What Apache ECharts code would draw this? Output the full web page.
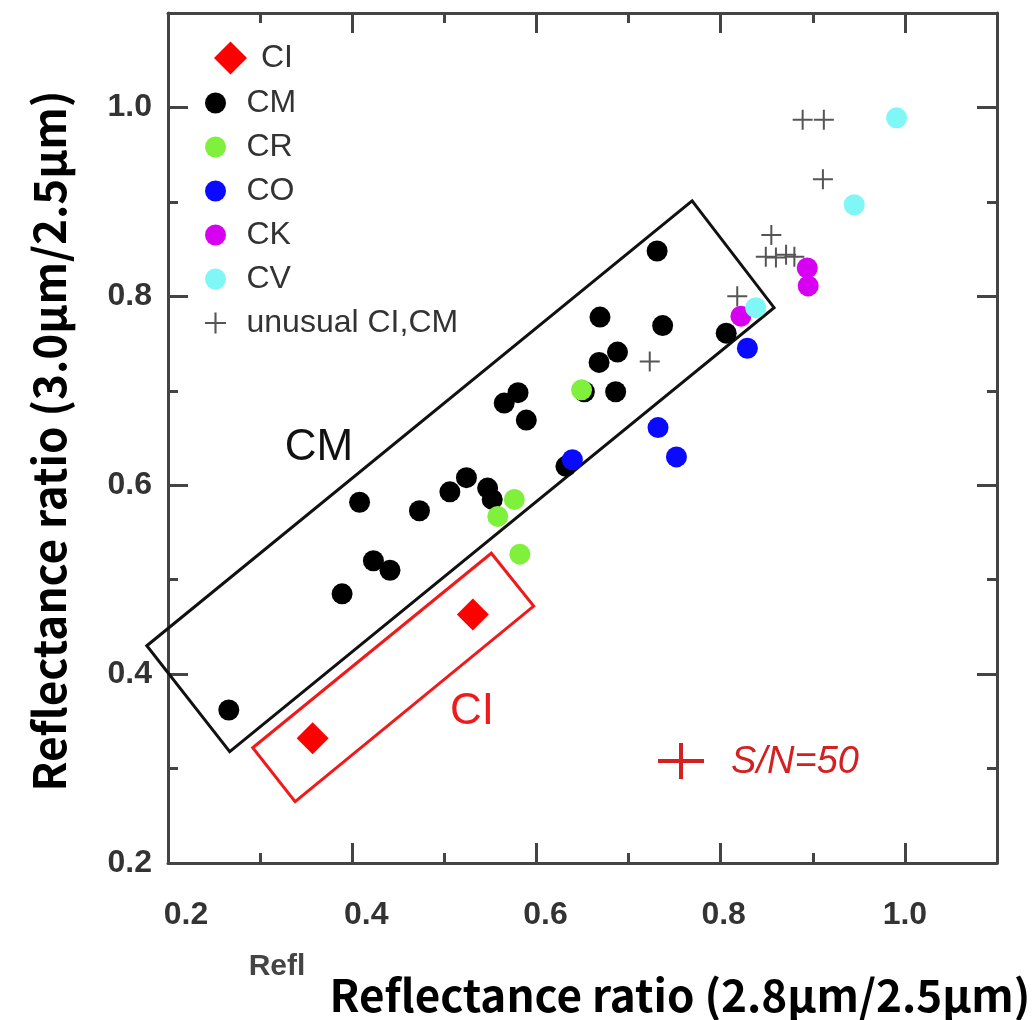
<!DOCTYPE html>
<html>
<head>
<meta charset="utf-8">
<script src="https://cdn.jsdelivr.net/npm/echarts@6/dist/echarts.min.js"></script>
<style>
html,body{margin:0;padding:0;background:#fff;}
#chart{width:1032px;height:1020px;}
</style>
</head>
<body>
<div id="chart"></div>
<script>
// values: [ratio 2.8/2.5, ratio 3.0/2.5]
var ciData = [[0.357,0.332],[0.531,0.463]];
var cmData = [
    [0.266,0.362],[0.389,0.485],[0.408,0.582],[0.423,0.520],[0.441,0.510],
    [0.473,0.573],[0.506,0.593],[0.524,0.608],[0.547,0.597],[0.552,0.585],
    [0.565,0.687],[0.580,0.698],[0.589,0.669],[0.632,0.620],[0.652,0.699],
    [0.668,0.730],[0.669,0.778],[0.686,0.699],[0.688,0.741],[0.731,0.848],
    [0.737,0.769],[0.806,0.761]
];
var crData = [[0.558,0.567],[0.576,0.585],[0.582,0.527],[0.649,0.701]];
var coData = [[0.639,0.627],[0.732,0.661],[0.752,0.630],[0.829,0.745]];
var ckData = [[0.822,0.779],[0.894,0.830],[0.895,0.811]];
var cvData = [[0.838,0.788],[0.945,0.897],[0.991,0.989]];
var unusualData = [
    [0.723,0.731],[0.818,0.800],[0.849,0.842],[0.860,0.841],[0.871,0.844],
    [0.880,0.842],[0.855,0.865],[0.889,0.987],[0.912,0.987],[0.911,0.924]
];
// group outlines (corners in data units)
var cmBox = [[0.177,0.430],[0.769,0.901],[0.858,0.788],[0.267,0.318]];
var ciBox = [[0.292,0.322],[0.551,0.528],[0.597,0.472],[0.338,0.265]];

var axisMin = 0.2, axisMax = 1.1;
var frameColor = '#444';
var plusPath = 'path://M9,0h2v9h9v2h-9v9h-2v-9h-9v-2h9z';

var chart = echarts.init(document.getElementById('chart'));

// x labels in the original sit a little right of their ticks
var xLabelShift = {'0.2':'s36','0.4':'s28','0.6':'s18','0.8':'s6','1.0':'s0'};

function majorAxis(pos, labels){
    var horiz = (pos=='bottom'||pos=='top');
    return {
        type:'value', position:pos, min:axisMin, max:axisMax, interval:0.2,
        axisLine:{show:true, lineStyle:{color:frameColor, width:3}},
        axisTick:{show:true, inside:true, length:20, lineStyle:{color:frameColor, width:3}},
        axisLabel:{
            show:labels, showMaxLabel:false,
            fontFamily:'Liberation Sans', fontSize:32, fontWeight:'bold', color:'#333',
            margin:horiz ? 36 : 16,
            formatter:function(v){
                var t = v.toFixed(1);
                if(horiz && xLabelShift[t]) return '{' + xLabelShift[t] + '|' + t + '}';
                return t;
            },
            rich:{
                s36:{padding:[0,0,0,36]}, s28:{padding:[0,0,0,28]},
                s18:{padding:[0,0,0,18]}, s6:{padding:[0,0,0,6]}, s0:{}
            }
        },
        splitLine:{show:false}
    }
}
function minorAxis(pos){
    return {
        type:'value', position:pos, min:axisMin, max:axisMax, interval:0.1,
        axisLine:{show:false},
        axisTick:{show:true, inside:true, length:10, lineStyle:{color:frameColor, width:3}},
        axisLabel:{show:false},
        splitLine:{show:false}
    }
}

function boxSeries(name, corners, color){
    return {
        name:name, type:'custom', clip:false, silent:true,
        data:[corners[0]],
        renderItem:function(params, api){
            return {
                type:'polygon',
                shape:{points:corners.map(function(c){ return api.coord(c) })},
                style:{fill:'none', stroke:color, lineWidth:3}
            }
        }
    }
}

var legendText = {
    fontFamily:'Liberation Sans', fontSize:32, lineHeight:32, color:'#333', padding:[12,0,0,0]
};

var option = {
    animation:false,
    grid:{left:168, right:35, top:13, bottom:157},
    xAxis:[majorAxis('bottom',true), minorAxis('bottom'), majorAxis('top',false), minorAxis('top')],
    yAxis:[majorAxis('left',true), minorAxis('left'), majorAxis('right',false), minorAxis('right')],
    legend:[
        {
            data:['CI'], orient:'vertical', left:214, top:36, padding:0,
            itemWidth:33, itemHeight:33, itemGap:0, selectedMode:false,
            textStyle:{
                fontFamily:'Liberation Sans', fontSize:32, lineHeight:32, color:'#333', padding:[12,0,0,9]
            }
        },
        {
            data:['CM','CR','CO','CK','CV','unusual CI,CM'], orient:'vertical', left:205, top:81, padding:0,
            itemWidth:52, itemHeight:21, itemGap:0, selectedMode:false,
            textStyle:legendText
        }
    ],
    series:[
        boxSeries('cmBox', cmBox, '#111'),
        boxSeries('ciBox', ciBox, '#f01a1a'),
        { name:'CI', type:'scatter', data:ciData, symbol:'diamond', symbolSize:32, itemStyle:{color:'#ff0000', opacity:1} },
        { name:'CM', type:'scatter', data:cmData, symbol:'circle', symbolSize:21, itemStyle:{color:'#000', opacity:1} },
        { name:'CR', type:'scatter', data:crData, symbol:'circle', symbolSize:21, itemStyle:{color:'#7ff03c', opacity:1} },
        { name:'CO', type:'scatter', data:coData, symbol:'circle', symbolSize:21, itemStyle:{color:'#0a0aff', opacity:1} },
        { name:'CK', type:'scatter', data:ckData, symbol:'circle', symbolSize:21, itemStyle:{color:'#d800f0', opacity:1} },
        { name:'CV', type:'scatter', data:cvData, symbol:'circle', symbolSize:21, itemStyle:{color:'#7ff7f7', opacity:1} },
        { name:'unusual CI,CM', type:'scatter', data:unusualData, symbol:plusPath, symbolSize:20, itemStyle:{color:'#555', opacity:1} }
    ],
    graphic:[
        {
            type:'text', x:49, y:441, rotation:Math.PI/2,
            style:{text:'Reflectance ratio (3.0μm/2.5μm)', fontFamily:'Noto Sans CJK JP', fontWeight:'bold', fontSize:44,
                fill:'#000', align:'center', verticalAlign:'middle'}
        },
        {
            type:'text', x:680, y:995,
            style:{text:'Reflectance ratio (2.8μm/2.5μm)', fontFamily:'Noto Sans CJK JP', fontWeight:'bold', fontSize:44,
                fill:'#000', align:'center', verticalAlign:'middle'}
        },
        {
            type:'text', x:277, y:967,
            style:{text:'Refl', fontFamily:'Liberation Sans', fontWeight:'bold', fontSize:30,
                fill:'#444', align:'center', verticalAlign:'middle'}
        },
        {
            type:'text', x:319, y:448,
            style:{text:'CM', fontFamily:'Liberation Sans', fontSize:44, fill:'#111', align:'center', verticalAlign:'middle'}
        },
        {
            type:'text', x:472, y:712,
            style:{text:'CI', fontFamily:'Liberation Sans', fontSize:44, fill:'#f01a1a', align:'center', verticalAlign:'middle'}
        },
        {
            type:'text', x:795, y:762,
            style:{text:'S/N=50', fontFamily:'Liberation Sans', fontStyle:'italic', fontSize:38, fill:'#d42020', align:'center', verticalAlign:'middle'}
        },
        { type:'line', shape:{x1:658, y1:761, x2:704, y2:761}, style:{stroke:'#d42020', lineWidth:4} },
        { type:'line', shape:{x1:681, y1:743, x2:681, y2:779}, style:{stroke:'#d42020', lineWidth:4} }
    ]
};

chart.setOption(option);
window.addEventListener('resize', function(){ chart.resize(); });
</script>
</body>
</html>
